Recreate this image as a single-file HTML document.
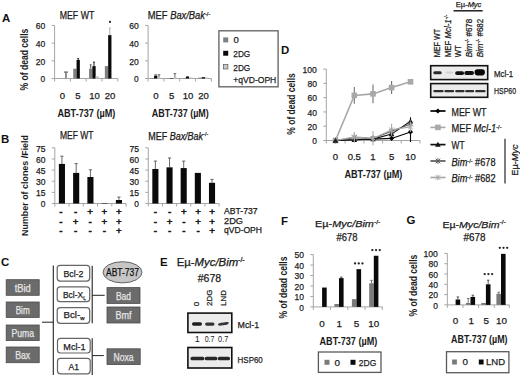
<!DOCTYPE html>
<html><head><meta charset="utf-8"><style>
html,body{margin:0;padding:0;background:#fff;}
body{width:520px;height:375px;overflow:hidden;}
svg{display:block;font-family:"Liberation Sans",sans-serif;}
text{stroke:#1a1a1a;stroke-width:0.25px;}
</style></head><body>
<svg width="520" height="375" viewBox="0 0 520 375">
<rect width="520" height="375" fill="#fff"/>
<text x="2" y="22.3" font-size="11.45" font-weight="bold" text-anchor="start" fill="#111" style="stroke:#111;stroke-width:0">A</text>
<text x="1" y="142.8" font-size="11.45" font-weight="bold" text-anchor="start" fill="#111" style="stroke:#111;stroke-width:0">B</text>
<text x="1" y="265.8" font-size="11.45" font-weight="bold" text-anchor="start" fill="#111" style="stroke:#111;stroke-width:0">C</text>
<text x="281" y="53.8" font-size="11.45" font-weight="bold" text-anchor="start" fill="#111" style="stroke:#111;stroke-width:0">D</text>
<text x="160" y="266.0" font-size="11.45" font-weight="bold" text-anchor="start" fill="#111" style="stroke:#111;stroke-width:0">E</text>
<text x="281" y="224.6" font-size="11.45" font-weight="bold" text-anchor="start" fill="#111" style="stroke:#111;stroke-width:0">F</text>
<text x="406.6" y="224.3" font-size="11.45" font-weight="bold" text-anchor="start" fill="#111" style="stroke:#111;stroke-width:0">G</text>
<line x1="54.6" y1="25.4" x2="54.6" y2="78.5" stroke="#a5a5a5" stroke-width="1"/>
<line x1="51.6" y1="25.4" x2="54.6" y2="25.4" stroke="#a5a5a5" stroke-width="1"/>
<text x="45.2" y="29.099999999999998" font-size="9.54" text-anchor="end" fill="#1a1a1a" textLength="9.5" lengthAdjust="spacingAndGlyphs">60</text>
<line x1="51.6" y1="43.099999999999994" x2="54.6" y2="43.099999999999994" stroke="#a5a5a5" stroke-width="1"/>
<text x="45.2" y="46.8" font-size="9.54" text-anchor="end" fill="#1a1a1a" textLength="9.5" lengthAdjust="spacingAndGlyphs">40</text>
<line x1="51.6" y1="60.8" x2="54.6" y2="60.8" stroke="#a5a5a5" stroke-width="1"/>
<text x="45.2" y="64.5" font-size="9.54" text-anchor="end" fill="#1a1a1a" textLength="9.5" lengthAdjust="spacingAndGlyphs">20</text>
<line x1="51.6" y1="78.5" x2="54.6" y2="78.5" stroke="#a5a5a5" stroke-width="1"/>
<text x="45.2" y="82.2" font-size="9.54" text-anchor="end" fill="#1a1a1a" textLength="4.65" lengthAdjust="spacingAndGlyphs">0</text>
<line x1="54.6" y1="78.5" x2="117.8" y2="78.5" stroke="#a5a5a5" stroke-width="1"/>
<line x1="54.6" y1="78.5" x2="54.6" y2="81.5" stroke="#a5a5a5" stroke-width="1"/>
<line x1="70.4" y1="78.5" x2="70.4" y2="81.5" stroke="#a5a5a5" stroke-width="1"/>
<line x1="86.2" y1="78.5" x2="86.2" y2="81.5" stroke="#a5a5a5" stroke-width="1"/>
<line x1="102.0" y1="78.5" x2="102.0" y2="81.5" stroke="#a5a5a5" stroke-width="1"/>
<line x1="117.8" y1="78.5" x2="117.8" y2="81.5" stroke="#a5a5a5" stroke-width="1"/>
<rect x="65.0" y="72.3" width="1.9" height="6.200000000000003" fill="#8c8c8c"/>
<line x1="63.9" y1="72.1" x2="68.0" y2="72.1" stroke="#6a6a6a" stroke-width="1.3"/>
<rect x="73.25" y="68.765" width="3.3" height="9.735" fill="#7f7f7f"/>
<rect x="76.55" y="59.915" width="3.3" height="18.585" fill="#0a0a0a"/>
<line x1="78.2" y1="58.5875" x2="78.2" y2="59.915" stroke="#222" stroke-width="1.0"/>
<line x1="77.3" y1="58.5875" x2="79.10000000000001" y2="58.5875" stroke="#222" stroke-width="1.0"/>
<rect x="89.05" y="68.765" width="3.3" height="9.735" fill="#7f7f7f"/>
<line x1="90.7" y1="64.7825" x2="90.7" y2="68.765" stroke="#555" stroke-width="1.0"/>
<line x1="89.8" y1="64.7825" x2="91.60000000000001" y2="64.7825" stroke="#555" stroke-width="1.0"/>
<rect x="92.35" y="66.11" width="3.3" height="12.39" fill="#0a0a0a"/>
<line x1="94.0" y1="62.1275" x2="94.0" y2="66.11" stroke="#222" stroke-width="1.0"/>
<line x1="93.1" y1="62.1275" x2="94.9" y2="62.1275" stroke="#222" stroke-width="1.0"/>
<rect x="95.64999999999999" y="76.2875" width="3.3" height="2.2125000000000057" fill="#c9c9c9"/>
<rect x="104.85" y="66.11" width="3.3" height="12.39" fill="#7f7f7f"/>
<rect x="108.14999999999999" y="35.135" width="3.3" height="43.365" fill="#0a0a0a"/>
<line x1="109.8" y1="28.054999999999993" x2="109.8" y2="35.135" stroke="#aaa" stroke-width="1.0"/>
<line x1="108.89999999999999" y1="28.054999999999993" x2="110.7" y2="28.054999999999993" stroke="#aaa" stroke-width="1.0"/>
<circle cx="110.00" cy="21.9" r="1.05" fill="#222"/>
<text x="62.5" y="98.8" font-size="9.54" text-anchor="middle" fill="#1a1a1a">0</text>
<text x="78" y="98.8" font-size="9.54" text-anchor="middle" fill="#1a1a1a">5</text>
<text x="94.5" y="98.8" font-size="9.54" text-anchor="middle" fill="#1a1a1a">10</text>
<text x="110" y="98.8" font-size="9.54" text-anchor="middle" fill="#1a1a1a">20</text>
<text x="86.4" y="116.7" font-size="10.28" font-weight="bold" text-anchor="middle" fill="#1a1a1a" textLength="58" lengthAdjust="spacingAndGlyphs" style="stroke-width:0">ABT-737 (µM)</text>
<text x="77" y="18.9" font-size="10.07" text-anchor="middle" fill="#1a1a1a" textLength="34.5" lengthAdjust="spacingAndGlyphs">MEF WT</text>
<text transform="translate(28.2,59.6) rotate(-90)" x="0" y="0" font-size="10.07" font-weight="bold" text-anchor="middle" fill="#1a1a1a" textLength="62" lengthAdjust="spacingAndGlyphs" style="stroke-width:0">% of dead cells</text>
<line x1="148.1" y1="25.4" x2="148.1" y2="78.5" stroke="#a5a5a5" stroke-width="1"/>
<line x1="145.1" y1="25.4" x2="148.1" y2="25.4" stroke="#a5a5a5" stroke-width="1"/>
<text x="138.7" y="29.099999999999998" font-size="9.54" text-anchor="end" fill="#1a1a1a" textLength="9.5" lengthAdjust="spacingAndGlyphs">60</text>
<line x1="145.1" y1="43.099999999999994" x2="148.1" y2="43.099999999999994" stroke="#a5a5a5" stroke-width="1"/>
<text x="138.7" y="46.8" font-size="9.54" text-anchor="end" fill="#1a1a1a" textLength="9.5" lengthAdjust="spacingAndGlyphs">40</text>
<line x1="145.1" y1="60.8" x2="148.1" y2="60.8" stroke="#a5a5a5" stroke-width="1"/>
<text x="138.7" y="64.5" font-size="9.54" text-anchor="end" fill="#1a1a1a" textLength="9.5" lengthAdjust="spacingAndGlyphs">20</text>
<line x1="145.1" y1="78.5" x2="148.1" y2="78.5" stroke="#a5a5a5" stroke-width="1"/>
<text x="138.7" y="82.2" font-size="9.54" text-anchor="end" fill="#1a1a1a" textLength="4.65" lengthAdjust="spacingAndGlyphs">0</text>
<line x1="148.1" y1="78.5" x2="211.4" y2="78.5" stroke="#a5a5a5" stroke-width="1"/>
<line x1="148.1" y1="78.5" x2="148.1" y2="81.5" stroke="#a5a5a5" stroke-width="1"/>
<line x1="163.9" y1="78.5" x2="163.9" y2="81.5" stroke="#a5a5a5" stroke-width="1"/>
<line x1="179.7" y1="78.5" x2="179.7" y2="81.5" stroke="#a5a5a5" stroke-width="1"/>
<line x1="195.6" y1="78.5" x2="195.6" y2="81.5" stroke="#a5a5a5" stroke-width="1"/>
<line x1="211.4" y1="78.5" x2="211.4" y2="81.5" stroke="#a5a5a5" stroke-width="1"/>
<rect x="150.75" y="77.969" width="3.3" height="0.5310000000000059" fill="#7f7f7f"/>
<rect x="154.05" y="75.668" width="3.3" height="2.8319999999999936" fill="#0a0a0a"/>
<line x1="155.70000000000002" y1="74.783" x2="155.70000000000002" y2="75.668" stroke="#444" stroke-width="0.8"/>
<line x1="154.4" y1="74.783" x2="157.00000000000003" y2="74.783" stroke="#444" stroke-width="0.8"/>
<rect x="157.35000000000002" y="77.438" width="3.3" height="1.0619999999999976" fill="#c9c9c9"/>
<line x1="159.00000000000003" y1="74.783" x2="159.00000000000003" y2="77.438" stroke="#444" stroke-width="0.8"/>
<line x1="157.70000000000002" y1="74.783" x2="160.30000000000004" y2="74.783" stroke="#444" stroke-width="0.8"/>
<rect x="166.65" y="78.2345" width="3.3" height="0.26550000000000296" fill="#7f7f7f"/>
<rect x="169.95000000000002" y="78.0575" width="3.3" height="0.44249999999999545" fill="#0a0a0a"/>
<rect x="173.25000000000003" y="77.1725" width="3.3" height="1.3275000000000006" fill="#c9c9c9"/>
<line x1="174.90000000000003" y1="73.6325" x2="174.90000000000003" y2="77.1725" stroke="#444" stroke-width="0.8"/>
<line x1="173.60000000000002" y1="73.6325" x2="176.20000000000005" y2="73.6325" stroke="#444" stroke-width="0.8"/>
<rect x="182.55" y="78.0575" width="3.3" height="0.44249999999999545" fill="#7f7f7f"/>
<rect x="185.85000000000002" y="76.907" width="3.3" height="1.5930000000000035" fill="#0a0a0a"/>
<line x1="187.50000000000003" y1="76.4645" x2="187.50000000000003" y2="76.907" stroke="#444" stroke-width="0.8"/>
<line x1="186.20000000000002" y1="76.4645" x2="188.80000000000004" y2="76.4645" stroke="#444" stroke-width="0.8"/>
<rect x="189.15000000000003" y="77.438" width="3.3" height="1.0619999999999976" fill="#c9c9c9"/>
<rect x="198.45000000000002" y="77.615" width="3.3" height="0.8850000000000051" fill="#7f7f7f"/>
<rect x="201.75000000000003" y="77.1725" width="3.3" height="1.3275000000000006" fill="#0a0a0a"/>
<rect x="205.05000000000004" y="77.438" width="3.3" height="1.0619999999999976" fill="#c9c9c9"/>
<text x="156.0" y="98.8" font-size="9.54" text-anchor="middle" fill="#1a1a1a">0</text>
<text x="171.6" y="98.8" font-size="9.54" text-anchor="middle" fill="#1a1a1a">5</text>
<text x="188.0" y="98.8" font-size="9.54" text-anchor="middle" fill="#1a1a1a">10</text>
<text x="203.5" y="98.8" font-size="9.54" text-anchor="middle" fill="#1a1a1a">20</text>
<text x="180.3" y="116.5" font-size="10.28" font-weight="bold" text-anchor="middle" fill="#1a1a1a" textLength="57" lengthAdjust="spacingAndGlyphs" style="stroke-width:0">ABT-737 (µM)</text>
<text x="147.8" y="19.3" font-size="10" fill="#1a1a1a" textLength="62.5" lengthAdjust="spacingAndGlyphs">MEF <tspan font-style="italic">Bax/Bak</tspan><tspan font-size="6" dy="-3.5">-/-</tspan></text>
<rect x="218.9" y="30.8" width="59.2" height="56.0" fill="white" stroke="#6a6a6a" stroke-width="1.4"/>
<rect x="223.2" y="37.4" width="5.0" height="5.0" fill="#7f7f7f"/>
<rect x="223.2" y="50.8" width="5.0" height="4.9" fill="#0a0a0a"/>
<rect x="223.5" y="64.6" width="4.4" height="4.4" fill="#c9c9c9" stroke="#555" stroke-width="0.7"/>
<text x="233.5" y="43.3" font-size="9.54" text-anchor="start" fill="#1a1a1a">0</text>
<text x="233.3" y="57.3" font-size="9.54" text-anchor="start" fill="#1a1a1a" textLength="17" lengthAdjust="spacingAndGlyphs">2DG</text>
<text x="233.3" y="71.3" font-size="9.54" text-anchor="start" fill="#1a1a1a" textLength="17" lengthAdjust="spacingAndGlyphs">2DG</text>
<text x="233.3" y="82.6" font-size="9.54" text-anchor="start" fill="#1a1a1a" textLength="43" lengthAdjust="spacingAndGlyphs">+qVD-OPH</text>
<line x1="54.8" y1="147.8" x2="54.8" y2="203.5" stroke="#a5a5a5" stroke-width="1"/>
<line x1="51.8" y1="147.8" x2="54.8" y2="147.8" stroke="#a5a5a5" stroke-width="1"/>
<text x="45.4" y="151.5" font-size="9.54" text-anchor="end" fill="#1a1a1a" textLength="9.5" lengthAdjust="spacingAndGlyphs">75</text>
<line x1="51.8" y1="158.94" x2="54.8" y2="158.94" stroke="#a5a5a5" stroke-width="1"/>
<text x="45.4" y="162.64" font-size="9.54" text-anchor="end" fill="#1a1a1a" textLength="9.5" lengthAdjust="spacingAndGlyphs">60</text>
<line x1="51.8" y1="170.08" x2="54.8" y2="170.08" stroke="#a5a5a5" stroke-width="1"/>
<text x="45.4" y="173.78" font-size="9.54" text-anchor="end" fill="#1a1a1a" textLength="9.5" lengthAdjust="spacingAndGlyphs">45</text>
<line x1="51.8" y1="181.22" x2="54.8" y2="181.22" stroke="#a5a5a5" stroke-width="1"/>
<text x="45.4" y="184.92" font-size="9.54" text-anchor="end" fill="#1a1a1a" textLength="9.5" lengthAdjust="spacingAndGlyphs">30</text>
<line x1="51.8" y1="192.36" x2="54.8" y2="192.36" stroke="#a5a5a5" stroke-width="1"/>
<text x="45.4" y="196.06" font-size="9.54" text-anchor="end" fill="#1a1a1a" textLength="9.5" lengthAdjust="spacingAndGlyphs">15</text>
<line x1="51.8" y1="203.5" x2="54.8" y2="203.5" stroke="#a5a5a5" stroke-width="1"/>
<text x="45.4" y="207.2" font-size="9.54" text-anchor="end" fill="#1a1a1a" textLength="4.65" lengthAdjust="spacingAndGlyphs">0</text>
<line x1="54.8" y1="203.5" x2="126.05" y2="203.5" stroke="#a5a5a5" stroke-width="1"/>
<line x1="54.8" y1="203.5" x2="54.8" y2="206.5" stroke="#a5a5a5" stroke-width="1"/>
<line x1="69.05" y1="203.5" x2="69.05" y2="206.5" stroke="#a5a5a5" stroke-width="1"/>
<line x1="83.3" y1="203.5" x2="83.3" y2="206.5" stroke="#a5a5a5" stroke-width="1"/>
<line x1="97.55" y1="203.5" x2="97.55" y2="206.5" stroke="#a5a5a5" stroke-width="1"/>
<line x1="111.8" y1="203.5" x2="111.8" y2="206.5" stroke="#a5a5a5" stroke-width="1"/>
<line x1="126.05" y1="203.5" x2="126.05" y2="206.5" stroke="#a5a5a5" stroke-width="1"/>
<rect x="58.875" y="163.9158666666667" width="6.1" height="39.58413333333331" fill="#0a0a0a"/>
<line x1="61.925" y1="156.19213333333335" x2="61.925" y2="163.9158666666667" stroke="#444" stroke-width="0.8"/>
<line x1="60.324999999999996" y1="156.19213333333335" x2="63.525" y2="156.19213333333335" stroke="#444" stroke-width="0.8"/>
<rect x="73.125" y="172.90213333333332" width="6.1" height="30.597866666666675" fill="#0a0a0a"/>
<line x1="76.175" y1="163.61880000000002" x2="76.175" y2="172.90213333333332" stroke="#444" stroke-width="0.8"/>
<line x1="74.575" y1="163.61880000000002" x2="77.77499999999999" y2="163.61880000000002" stroke="#444" stroke-width="0.8"/>
<rect x="87.375" y="176.98680000000002" width="6.1" height="26.513199999999983" fill="#0a0a0a"/>
<line x1="90.425" y1="169.78293333333335" x2="90.425" y2="176.98680000000002" stroke="#444" stroke-width="0.8"/>
<line x1="88.825" y1="169.78293333333335" x2="92.02499999999999" y2="169.78293333333335" stroke="#444" stroke-width="0.8"/>
<rect x="101.625" y="203.0544" width="6.1" height="0.4456000000000131" fill="#0a0a0a"/>
<rect x="115.875" y="200.00946666666667" width="6.1" height="3.4905333333333317" fill="#0a0a0a"/>
<line x1="118.925" y1="197.0388" x2="118.925" y2="200.00946666666667" stroke="#444" stroke-width="0.8"/>
<line x1="117.325" y1="197.0388" x2="120.52499999999999" y2="197.0388" stroke="#444" stroke-width="0.8"/>
<line x1="148.3" y1="147.8" x2="148.3" y2="203.5" stroke="#a5a5a5" stroke-width="1"/>
<line x1="145.3" y1="147.8" x2="148.3" y2="147.8" stroke="#a5a5a5" stroke-width="1"/>
<text x="138.9" y="151.5" font-size="9.54" text-anchor="end" fill="#1a1a1a" textLength="9.5" lengthAdjust="spacingAndGlyphs">75</text>
<line x1="145.3" y1="158.94" x2="148.3" y2="158.94" stroke="#a5a5a5" stroke-width="1"/>
<text x="138.9" y="162.64" font-size="9.54" text-anchor="end" fill="#1a1a1a" textLength="9.5" lengthAdjust="spacingAndGlyphs">60</text>
<line x1="145.3" y1="170.08" x2="148.3" y2="170.08" stroke="#a5a5a5" stroke-width="1"/>
<text x="138.9" y="173.78" font-size="9.54" text-anchor="end" fill="#1a1a1a" textLength="9.5" lengthAdjust="spacingAndGlyphs">45</text>
<line x1="145.3" y1="181.22" x2="148.3" y2="181.22" stroke="#a5a5a5" stroke-width="1"/>
<text x="138.9" y="184.92" font-size="9.54" text-anchor="end" fill="#1a1a1a" textLength="9.5" lengthAdjust="spacingAndGlyphs">30</text>
<line x1="145.3" y1="192.36" x2="148.3" y2="192.36" stroke="#a5a5a5" stroke-width="1"/>
<text x="138.9" y="196.06" font-size="9.54" text-anchor="end" fill="#1a1a1a" textLength="9.5" lengthAdjust="spacingAndGlyphs">15</text>
<line x1="145.3" y1="203.5" x2="148.3" y2="203.5" stroke="#a5a5a5" stroke-width="1"/>
<text x="138.9" y="207.2" font-size="9.54" text-anchor="end" fill="#1a1a1a" textLength="4.65" lengthAdjust="spacingAndGlyphs">0</text>
<line x1="148.3" y1="203.5" x2="219.10000000000002" y2="203.5" stroke="#a5a5a5" stroke-width="1"/>
<line x1="148.3" y1="203.5" x2="148.3" y2="206.5" stroke="#a5a5a5" stroke-width="1"/>
<line x1="162.46" y1="203.5" x2="162.46" y2="206.5" stroke="#a5a5a5" stroke-width="1"/>
<line x1="176.62" y1="203.5" x2="176.62" y2="206.5" stroke="#a5a5a5" stroke-width="1"/>
<line x1="190.78000000000003" y1="203.5" x2="190.78000000000003" y2="206.5" stroke="#a5a5a5" stroke-width="1"/>
<line x1="204.94" y1="203.5" x2="204.94" y2="206.5" stroke="#a5a5a5" stroke-width="1"/>
<line x1="219.10000000000002" y1="203.5" x2="219.10000000000002" y2="206.5" stroke="#a5a5a5" stroke-width="1"/>
<rect x="152.32999999999998" y="168.966" width="6.1" height="34.53399999999999" fill="#0a0a0a"/>
<line x1="155.38" y1="161.09373333333335" x2="155.38" y2="168.966" stroke="#444" stroke-width="0.8"/>
<line x1="153.78" y1="161.09373333333335" x2="156.98" y2="161.09373333333335" stroke="#444" stroke-width="0.8"/>
<rect x="166.49" y="167.33213333333333" width="6.1" height="36.16786666666667" fill="#0a0a0a"/>
<line x1="169.54000000000002" y1="157.97453333333334" x2="169.54000000000002" y2="167.33213333333333" stroke="#444" stroke-width="0.8"/>
<line x1="167.94000000000003" y1="157.97453333333334" x2="171.14000000000001" y2="157.97453333333334" stroke="#444" stroke-width="0.8"/>
<rect x="180.65" y="168.0748" width="6.1" height="35.42519999999999" fill="#0a0a0a"/>
<line x1="183.70000000000002" y1="161.09373333333335" x2="183.70000000000002" y2="168.0748" stroke="#444" stroke-width="0.8"/>
<line x1="182.10000000000002" y1="161.09373333333335" x2="185.3" y2="161.09373333333335" stroke="#444" stroke-width="0.8"/>
<rect x="194.81" y="172.90213333333332" width="6.1" height="30.597866666666675" fill="#0a0a0a"/>
<rect x="208.97" y="182.77960000000002" width="6.1" height="20.720399999999984" fill="#0a0a0a"/>
<line x1="212.02" y1="179.4376" x2="212.02" y2="182.77960000000002" stroke="#444" stroke-width="0.8"/>
<line x1="210.42000000000002" y1="179.4376" x2="213.62" y2="179.4376" stroke="#444" stroke-width="0.8"/>
<text x="76.7" y="139.3" font-size="10.18" text-anchor="middle" fill="#1a1a1a" textLength="33.5" lengthAdjust="spacingAndGlyphs">MEF WT</text>
<text x="148.2" y="139.5" font-size="10" fill="#1a1a1a" textLength="60" lengthAdjust="spacingAndGlyphs">MEF <tspan font-style="italic">Bax/Bak</tspan><tspan font-size="6" dy="-3.5">-/-</tspan></text>
<text transform="translate(28,185.5) rotate(-90)" x="0" y="0" font-size="9.86" font-weight="bold" text-anchor="middle" fill="#1a1a1a" textLength="101" lengthAdjust="spacingAndGlyphs" style="stroke-width:0">Number of clones /Field</text>
<text x="60.8" y="215.10000000000002" font-size="9.75" text-anchor="middle" fill="#1a1a1a" style="stroke-width:0.55px">-</text>
<text x="75.7" y="215.10000000000002" font-size="9.75" text-anchor="middle" fill="#1a1a1a" style="stroke-width:0.55px">-</text>
<text x="90.0" y="215.10000000000002" font-size="9.75" text-anchor="middle" fill="#1a1a1a" style="stroke-width:0.55px">+</text>
<text x="104.4" y="215.10000000000002" font-size="9.75" text-anchor="middle" fill="#1a1a1a" style="stroke-width:0.55px">+</text>
<text x="118.8" y="215.10000000000002" font-size="9.75" text-anchor="middle" fill="#1a1a1a" style="stroke-width:0.55px">+</text>
<text x="155.4" y="215.10000000000002" font-size="9.75" text-anchor="middle" fill="#1a1a1a" style="stroke-width:0.55px">-</text>
<text x="169.7" y="215.10000000000002" font-size="9.75" text-anchor="middle" fill="#1a1a1a" style="stroke-width:0.55px">-</text>
<text x="183.9" y="215.10000000000002" font-size="9.75" text-anchor="middle" fill="#1a1a1a" style="stroke-width:0.55px">+</text>
<text x="198.0" y="215.10000000000002" font-size="9.75" text-anchor="middle" fill="#1a1a1a" style="stroke-width:0.55px">+</text>
<text x="212.0" y="215.10000000000002" font-size="9.75" text-anchor="middle" fill="#1a1a1a" style="stroke-width:0.55px">+</text>
<text x="60.8" y="224.5" font-size="9.75" text-anchor="middle" fill="#1a1a1a" style="stroke-width:0.55px">-</text>
<text x="75.7" y="224.5" font-size="9.75" text-anchor="middle" fill="#1a1a1a" style="stroke-width:0.55px">+</text>
<text x="90.0" y="224.5" font-size="9.75" text-anchor="middle" fill="#1a1a1a" style="stroke-width:0.55px">-</text>
<text x="104.4" y="224.5" font-size="9.75" text-anchor="middle" fill="#1a1a1a" style="stroke-width:0.55px">+</text>
<text x="118.8" y="224.5" font-size="9.75" text-anchor="middle" fill="#1a1a1a" style="stroke-width:0.55px">+</text>
<text x="155.4" y="224.5" font-size="9.75" text-anchor="middle" fill="#1a1a1a" style="stroke-width:0.55px">-</text>
<text x="169.7" y="224.5" font-size="9.75" text-anchor="middle" fill="#1a1a1a" style="stroke-width:0.55px">+</text>
<text x="183.9" y="224.5" font-size="9.75" text-anchor="middle" fill="#1a1a1a" style="stroke-width:0.55px">-</text>
<text x="198.0" y="224.5" font-size="9.75" text-anchor="middle" fill="#1a1a1a" style="stroke-width:0.55px">+</text>
<text x="212.0" y="224.5" font-size="9.75" text-anchor="middle" fill="#1a1a1a" style="stroke-width:0.55px">+</text>
<text x="60.8" y="234.10000000000002" font-size="9.75" text-anchor="middle" fill="#1a1a1a" style="stroke-width:0.55px">-</text>
<text x="75.7" y="234.10000000000002" font-size="9.75" text-anchor="middle" fill="#1a1a1a" style="stroke-width:0.55px">-</text>
<text x="90.0" y="234.10000000000002" font-size="9.75" text-anchor="middle" fill="#1a1a1a" style="stroke-width:0.55px">-</text>
<text x="104.4" y="234.10000000000002" font-size="9.75" text-anchor="middle" fill="#1a1a1a" style="stroke-width:0.55px">-</text>
<text x="118.8" y="234.10000000000002" font-size="9.75" text-anchor="middle" fill="#1a1a1a" style="stroke-width:0.55px">+</text>
<text x="155.4" y="234.10000000000002" font-size="9.75" text-anchor="middle" fill="#1a1a1a" style="stroke-width:0.55px">-</text>
<text x="169.7" y="234.10000000000002" font-size="9.75" text-anchor="middle" fill="#1a1a1a" style="stroke-width:0.55px">-</text>
<text x="183.9" y="234.10000000000002" font-size="9.75" text-anchor="middle" fill="#1a1a1a" style="stroke-width:0.55px">-</text>
<text x="198.0" y="234.10000000000002" font-size="9.75" text-anchor="middle" fill="#1a1a1a" style="stroke-width:0.55px">-</text>
<text x="212.0" y="234.10000000000002" font-size="9.75" text-anchor="middle" fill="#1a1a1a" style="stroke-width:0.55px">+</text>
<text x="224" y="213.5" font-size="8.8" text-anchor="start" fill="#1a1a1a" textLength="33.5" lengthAdjust="spacingAndGlyphs">ABT-737</text>
<text x="224" y="223.5" font-size="8.8" text-anchor="start" fill="#1a1a1a" textLength="19" lengthAdjust="spacingAndGlyphs">2DG</text>
<text x="224" y="233.0" font-size="8.8" text-anchor="start" fill="#1a1a1a" textLength="38" lengthAdjust="spacingAndGlyphs">qVD-OPH</text>
<rect x="6.2" y="279.7" width="33" height="15.6" fill="#6b6b6b" stroke="#4a4a4a" stroke-width="0.8"/>
<text x="22.7" y="291.5" font-size="10.07" text-anchor="middle" fill="#e6e6e6" textLength="16" lengthAdjust="spacingAndGlyphs" style="stroke:#e6e6e6">tBid</text>
<rect x="6.2" y="302.0" width="33" height="15.4" fill="#6b6b6b" stroke="#4a4a4a" stroke-width="0.8"/>
<text x="22.7" y="313.7" font-size="10.07" text-anchor="middle" fill="#e6e6e6" textLength="14" lengthAdjust="spacingAndGlyphs" style="stroke:#e6e6e6">Bim</text>
<rect x="6.2" y="325.0" width="33" height="15.6" fill="#6b6b6b" stroke="#4a4a4a" stroke-width="0.8"/>
<text x="22.7" y="336.8" font-size="10.07" text-anchor="middle" fill="#e6e6e6" textLength="22.5" lengthAdjust="spacingAndGlyphs" style="stroke:#e6e6e6">Puma</text>
<rect x="6.2" y="347.0" width="33" height="15.7" fill="#6b6b6b" stroke="#4a4a4a" stroke-width="0.8"/>
<text x="22.7" y="358.85" font-size="10.07" text-anchor="middle" fill="#e6e6e6" textLength="15" lengthAdjust="spacingAndGlyphs" style="stroke:#e6e6e6">Bax</text>
<line x1="42" y1="322.2" x2="53.3" y2="322.2" stroke="#222" stroke-width="1"/>
<line x1="53.3" y1="265.5" x2="53.3" y2="375" stroke="#222" stroke-width="1.1"/>
<rect x="57.2" y="265.3" width="32.5" height="15.8" fill="white" stroke="#666" stroke-width="1.2" rx="3"/>
<text x="73.5" y="276.59999999999997" font-size="9.8" text-anchor="middle" fill="#1a1a1a" textLength="20" lengthAdjust="spacingAndGlyphs">Bcl-2</text>
<rect x="57.2" y="286.9" width="32.5" height="14.8" fill="white" stroke="#666" stroke-width="1.2" rx="3"/>
<text x="74.5" y="297.7" font-size="9.8" text-anchor="middle" fill="#1a1a1a" textLength="23" lengthAdjust="spacingAndGlyphs">Bcl-X<tspan font-size="6" dy="2.5">L</tspan></text>
<rect x="57.2" y="307.7" width="32.5" height="15.6" fill="white" stroke="#666" stroke-width="1.2" rx="3"/>
<text x="74.0" y="317.9" font-size="9.8" text-anchor="middle" fill="#1a1a1a" textLength="21" lengthAdjust="spacingAndGlyphs">Bcl-<tspan font-size="6" dy="2.5">w</tspan></text>
<rect x="57.5" y="338.3" width="32.7" height="14.7" fill="white" stroke="#666" stroke-width="1.2" rx="3"/>
<text x="74.5" y="349.59999999999997" font-size="9.8" text-anchor="middle" fill="#1a1a1a" textLength="22.4" lengthAdjust="spacingAndGlyphs">Mcl-1</text>
<rect x="57.5" y="358.3" width="32.7" height="15.5" fill="white" stroke="#666" stroke-width="1.2" rx="3"/>
<text x="73.8" y="369.9" font-size="9.8" text-anchor="middle" fill="#1a1a1a" textLength="10.5" lengthAdjust="spacingAndGlyphs">A1</text>
<line x1="92.2" y1="265.8" x2="92.2" y2="323.3" stroke="#222" stroke-width="1.1"/>
<line x1="92.2" y1="338.3" x2="92.2" y2="375" stroke="#222" stroke-width="1.1"/>
<line x1="92.2" y1="295.3" x2="104.7" y2="295.3" stroke="#222" stroke-width="1"/>
<line x1="92.2" y1="355.6" x2="103.8" y2="355.6" stroke="#222" stroke-width="1"/>
<ellipse cx="122.5" cy="272.3" rx="19.5" ry="10.6" fill="#c6c6c6" stroke="#555" stroke-width="0.9"/>
<text x="122.5" y="275.7" font-size="10.07" text-anchor="middle" fill="#111" textLength="33" lengthAdjust="spacingAndGlyphs" style="stroke:#111">ABT-737</text>
<rect x="107" y="287.6" width="33" height="15.8" fill="#6b6b6b" stroke="#4a4a4a" stroke-width="0.8"/>
<text x="123.5" y="299.5" font-size="10.07" text-anchor="middle" fill="#e6e6e6" textLength="15" lengthAdjust="spacingAndGlyphs" style="stroke:#e6e6e6">Bad</text>
<rect x="107" y="307.0" width="33" height="16.0" fill="#6b6b6b" stroke="#4a4a4a" stroke-width="0.8"/>
<text x="123.5" y="319.0" font-size="10.07" text-anchor="middle" fill="#e6e6e6" textLength="16" lengthAdjust="spacingAndGlyphs" style="stroke:#e6e6e6">Bmf</text>
<rect x="107" y="348.8" width="33.2" height="15.8" fill="#6b6b6b" stroke="#4a4a4a" stroke-width="0.8"/>
<text x="123.6" y="360.7" font-size="10.07" text-anchor="middle" fill="#e6e6e6" textLength="20" lengthAdjust="spacingAndGlyphs" style="stroke:#e6e6e6">Noxa</text>
<text x="176.7" y="266.3" font-size="10.6" fill="#1a1a1a" textLength="68" lengthAdjust="spacingAndGlyphs">Eµ-<tspan font-style="italic">Myc/Bim</tspan><tspan font-size="6.5" dy="-4">-/-</tspan></text>
<text x="209.4" y="282.4" font-size="10.6" text-anchor="middle" fill="#1a1a1a" textLength="23.3" lengthAdjust="spacingAndGlyphs">#678</text>
<text transform="translate(199.3,306.2) rotate(-90)" x="0" y="0" font-size="8.06" text-anchor="start" fill="#1a1a1a">0</text>
<text transform="translate(211.7,306.0) rotate(-90)" x="0" y="0" font-size="8.06" text-anchor="start" fill="#1a1a1a" textLength="16.4" lengthAdjust="spacingAndGlyphs">2DG</text>
<text transform="translate(226.3,306.0) rotate(-90)" x="0" y="0" font-size="8.06" text-anchor="start" fill="#1a1a1a" textLength="15.9" lengthAdjust="spacingAndGlyphs">LND</text>
<rect x="187.9" y="313.1" width="43.9" height="19.4" fill="#ebebeb" stroke="#111" stroke-width="1.6"/>
<rect x="187.9" y="347.5" width="43.9" height="20.50000000000002" fill="#ebebeb" stroke="#111" stroke-width="1.6"/>
<rect x="192.0" y="322.2" width="10.00" height="3.60" rx="1.7" fill="#1e1e1e"/>
<rect x="205.1" y="322.4" width="9.40" height="3.30" rx="1.6" fill="#333"/>
<path d="M218.0,324.6 C218.0,322.9 222,322.8 224,322.5 C226.5,322.1 228.7,321.7 228.7,323.0 C228.7,324.8 225,325.0 223,325.3 C220,325.7 218.0,326.0 218.0,324.6Z" fill="#383838"/>
<rect x="190.5" y="356.8" width="13.90" height="3.50" rx="1.6" fill="#262626"/>
<rect x="204.8" y="356.8" width="12.60" height="3.50" rx="1.6" fill="#262626"/>
<rect x="217.8" y="356.8" width="12.20" height="3.50" rx="1.6" fill="#262626"/>
<text x="237.5" y="328.0" font-size="9.75" text-anchor="start" fill="#1a1a1a" textLength="21.7" lengthAdjust="spacingAndGlyphs">Mcl-1</text>
<text x="197.3" y="342.4" font-size="9.12" text-anchor="middle" fill="#1a1a1a" style="stroke-width:0">1</text>
<text x="209.6" y="342.4" font-size="9.12" text-anchor="middle" fill="#1a1a1a" textLength="9.8" lengthAdjust="spacingAndGlyphs" style="stroke-width:0">0.7</text>
<text x="223.2" y="342.4" font-size="9.12" text-anchor="middle" fill="#1a1a1a" textLength="10.2" lengthAdjust="spacingAndGlyphs" style="stroke-width:0">0.7</text>
<text x="237.6" y="362.6" font-size="9.75" text-anchor="start" fill="#1a1a1a" textLength="25.2" lengthAdjust="spacingAndGlyphs">HSP60</text>
<line x1="326.3" y1="69.1" x2="326.3" y2="140.5" stroke="#a5a5a5" stroke-width="1"/>
<line x1="323.3" y1="69.1" x2="326.3" y2="69.1" stroke="#a5a5a5" stroke-width="1"/>
<text x="316.90000000000003" y="72.8" font-size="9.54" text-anchor="end" fill="#1a1a1a" textLength="14.35" lengthAdjust="spacingAndGlyphs">100</text>
<line x1="323.3" y1="83.38" x2="326.3" y2="83.38" stroke="#a5a5a5" stroke-width="1"/>
<text x="316.90000000000003" y="87.08" font-size="9.54" text-anchor="end" fill="#1a1a1a" textLength="9.5" lengthAdjust="spacingAndGlyphs">80</text>
<line x1="323.3" y1="97.66" x2="326.3" y2="97.66" stroke="#a5a5a5" stroke-width="1"/>
<text x="316.90000000000003" y="101.36" font-size="9.54" text-anchor="end" fill="#1a1a1a" textLength="9.5" lengthAdjust="spacingAndGlyphs">60</text>
<line x1="323.3" y1="111.94" x2="326.3" y2="111.94" stroke="#a5a5a5" stroke-width="1"/>
<text x="316.90000000000003" y="115.64" font-size="9.54" text-anchor="end" fill="#1a1a1a" textLength="9.5" lengthAdjust="spacingAndGlyphs">40</text>
<line x1="323.3" y1="126.22" x2="326.3" y2="126.22" stroke="#a5a5a5" stroke-width="1"/>
<text x="316.90000000000003" y="129.92" font-size="9.54" text-anchor="end" fill="#1a1a1a" textLength="9.5" lengthAdjust="spacingAndGlyphs">20</text>
<line x1="323.3" y1="140.5" x2="326.3" y2="140.5" stroke="#a5a5a5" stroke-width="1"/>
<text x="316.90000000000003" y="144.2" font-size="9.54" text-anchor="end" fill="#1a1a1a" textLength="4.65" lengthAdjust="spacingAndGlyphs">0</text>
<line x1="326.3" y1="140.5" x2="420.0" y2="140.5" stroke="#a5a5a5" stroke-width="1"/>
<line x1="326.3" y1="140.5" x2="326.3" y2="143.5" stroke="#a5a5a5" stroke-width="1"/>
<line x1="345.1" y1="140.5" x2="345.1" y2="143.5" stroke="#a5a5a5" stroke-width="1"/>
<line x1="363.9" y1="140.5" x2="363.9" y2="143.5" stroke="#a5a5a5" stroke-width="1"/>
<line x1="382.6" y1="140.5" x2="382.6" y2="143.5" stroke="#a5a5a5" stroke-width="1"/>
<line x1="401.2" y1="140.5" x2="401.2" y2="143.5" stroke="#a5a5a5" stroke-width="1"/>
<line x1="420.0" y1="140.5" x2="420.0" y2="143.5" stroke="#a5a5a5" stroke-width="1"/>
<text x="335.5" y="159.8" font-size="9.54" text-anchor="middle" fill="#1a1a1a">0</text>
<text x="354.3" y="159.8" font-size="9.54" text-anchor="middle" fill="#1a1a1a">0.5</text>
<text x="373.0" y="159.8" font-size="9.54" text-anchor="middle" fill="#1a1a1a">1</text>
<text x="391.6" y="159.8" font-size="9.54" text-anchor="middle" fill="#1a1a1a">5</text>
<text x="410.5" y="159.8" font-size="9.54" text-anchor="middle" fill="#1a1a1a">10</text>
<text x="373.4" y="178.4" font-size="10.28" font-weight="bold" text-anchor="middle" fill="#1a1a1a" textLength="58" lengthAdjust="spacingAndGlyphs" style="stroke-width:0">ABT-737 (µM)</text>
<text transform="translate(295.3,104.0) rotate(-90)" x="0" y="0" font-size="10.07" font-weight="bold" text-anchor="middle" fill="#1a1a1a" textLength="61.5" lengthAdjust="spacingAndGlyphs" style="stroke-width:0">% of dead cells</text>
<line x1="410.5" y1="121.93199999999999" x2="410.5" y2="141.932" stroke="#000" stroke-width="1.1"/>
<polyline points="335.5,140.5 354.3,139.8 373.0,139.1 391.6,138.4 410.5,131.9" fill="none" stroke="#000" stroke-width="1.1"/>
<polygon points="335.5,137.9 338.1,140.5 335.5,143.1 332.9,140.5" fill="#000"/>
<polygon points="354.3,137.186 356.90000000000003,139.786 354.3,142.386 351.7,139.786" fill="#000"/>
<polygon points="373.0,136.472 375.6,139.072 373.0,141.672 370.4,139.072" fill="#000"/>
<polygon points="391.6,135.758 394.20000000000005,138.358 391.6,140.958 389.0,138.358" fill="#000"/>
<polygon points="410.5,129.332 413.1,131.932 410.5,134.53199999999998 407.9,131.932" fill="#000"/>
<line x1="354.3" y1="87.0752" x2="354.3" y2="103.67519999999999" stroke="#707070" stroke-width="1.1"/>
<line x1="373.0" y1="84.47579999999999" x2="373.0" y2="103.2758" stroke="#707070" stroke-width="1.1"/>
<line x1="391.6" y1="81.0926" x2="391.6" y2="94.0926" stroke="#707070" stroke-width="1.1"/>
<line x1="410.5" y1="79.80919999999999" x2="410.5" y2="83.80919999999999" stroke="#707070" stroke-width="1.1"/>
<polyline points="335.5,140.5 354.3,95.4 373.0,93.9 391.6,87.6 410.5,81.8" fill="none" stroke="#a8a8a8" stroke-width="1.6"/>
<rect x="332.7" y="137.7" width="5.6" height="5.6" fill="#a8a8a8"/>
<rect x="351.5" y="92.5752" width="5.6" height="5.6" fill="#a8a8a8"/>
<rect x="370.2" y="91.0758" width="5.6" height="5.6" fill="#a8a8a8"/>
<rect x="388.8" y="84.79260000000001" width="5.6" height="5.6" fill="#a8a8a8"/>
<rect x="407.7" y="79.00919999999999" width="5.6" height="5.6" fill="#a8a8a8"/>
<line x1="410.5" y1="117.222" x2="410.5" y2="125.222" stroke="#111" stroke-width="1.1"/>
<polyline points="335.5,140.5 354.3,139.8 373.0,139.1 391.6,134.1 410.5,121.2" fill="none" stroke="#111" stroke-width="1.1"/>
<polygon points="335.5,137.7 338.3,142.74 332.7,142.74" fill="#111"/>
<polygon points="354.3,136.986 357.1,142.026 351.5,142.026" fill="#111"/>
<polygon points="373.0,136.272 375.8,141.312 370.2,141.312" fill="#111"/>
<polygon points="391.6,131.274 394.40000000000003,136.31400000000002 388.8,136.31400000000002" fill="#111"/>
<polygon points="410.5,118.422 413.3,123.46199999999999 407.7,123.46199999999999" fill="#111"/>
<line x1="410.5" y1="120.078" x2="410.5" y2="128.078" stroke="#5a5a5a" stroke-width="1.1"/>
<polyline points="335.5,140.5 354.3,137.6 373.0,138.4 391.6,131.2 410.5,124.1" fill="none" stroke="#5a5a5a" stroke-width="1.1"/>
<path d="M333.2,138.2L337.8,142.8M333.2,142.8L337.8,138.2M335.5,137.7L335.5,143.3" stroke="#5a5a5a" stroke-width="1"/>
<path d="M352.0,135.344L356.6,139.94400000000002M352.0,139.94400000000002L356.6,135.344M354.3,134.844L354.3,140.44400000000002" stroke="#5a5a5a" stroke-width="1"/>
<path d="M370.7,136.058L375.3,140.65800000000002M370.7,140.65800000000002L375.3,136.058M373.0,135.558L373.0,141.15800000000002" stroke="#5a5a5a" stroke-width="1"/>
<path d="M389.3,128.91799999999998L393.90000000000003,133.518M389.3,133.518L393.90000000000003,128.91799999999998M391.6,128.41799999999998L391.6,134.018" stroke="#5a5a5a" stroke-width="1"/>
<path d="M408.2,121.778L412.8,126.378M408.2,126.378L412.8,121.778M410.5,121.278L410.5,126.878" stroke="#5a5a5a" stroke-width="1"/>
<line x1="354.3" y1="131.93" x2="354.3" y2="141.93" stroke="#a9a9a9" stroke-width="1.1"/>
<line x1="373.0" y1="131.358" x2="373.0" y2="145.358" stroke="#a9a9a9" stroke-width="1.1"/>
<line x1="391.6" y1="123.78999999999999" x2="391.6" y2="135.79" stroke="#a9a9a9" stroke-width="1.1"/>
<line x1="410.5" y1="121.934" x2="410.5" y2="131.934" stroke="#a9a9a9" stroke-width="1.1"/>
<polyline points="335.5,140.5 354.3,136.9 373.0,138.4 391.6,129.8 410.5,126.9" fill="none" stroke="#a9a9a9" stroke-width="1.1"/>
<path d="M333.2,138.2L337.8,142.8M333.2,142.8L337.8,138.2M335.5,137.7L335.5,143.3" stroke="#a9a9a9" stroke-width="1"/>
<path d="M352.0,134.63L356.6,139.23000000000002M352.0,139.23000000000002L356.6,134.63M354.3,134.13L354.3,139.73000000000002" stroke="#a9a9a9" stroke-width="1"/>
<path d="M370.7,136.058L375.3,140.65800000000002M370.7,140.65800000000002L375.3,136.058M373.0,135.558L373.0,141.15800000000002" stroke="#a9a9a9" stroke-width="1"/>
<path d="M389.3,127.49L393.90000000000003,132.09M389.3,132.09L393.90000000000003,127.49M391.6,126.99L391.6,132.59" stroke="#a9a9a9" stroke-width="1"/>
<path d="M408.2,124.634L412.8,129.234M408.2,129.234L412.8,124.634M410.5,124.134L410.5,129.734" stroke="#a9a9a9" stroke-width="1"/>
<polygon points="335.5,137.7 338.3,142.74 332.7,142.74" fill="#222"/>
<text x="468.6" y="6.6" font-size="8.06" text-anchor="middle" fill="#1a1a1a" textLength="25.5" lengthAdjust="spacingAndGlyphs">Eµ-<tspan font-style="italic">Myc</tspan></text>
<line x1="453.5" y1="10.8" x2="482.7" y2="10.8" stroke="#111" stroke-width="1.4"/>
<text transform="translate(440.3,57.3) rotate(-90)" font-size="8.8" fill="#1a1a1a" textLength="28.6" lengthAdjust="spacingAndGlyphs">MEF WT</text>
<text transform="translate(451.4,57.3) rotate(-90)" font-size="8.8" fill="#1a1a1a" textLength="42.6" lengthAdjust="spacingAndGlyphs">MEF <tspan font-style="italic">Mcl-1</tspan><tspan font-size="5.5" dy="-3">-/-</tspan></text>
<text transform="translate(461.0,57.3) rotate(-90)" font-size="8.8" fill="#1a1a1a" textLength="12" lengthAdjust="spacingAndGlyphs">WT</text>
<text transform="translate(472.2,57.3) rotate(-90)" font-size="8.8" fill="#1a1a1a" textLength="38.6" lengthAdjust="spacingAndGlyphs"><tspan font-style="italic">Bim</tspan><tspan font-size="5.5" dy="-3">-/-</tspan><tspan dy="3"> #678</tspan></text>
<text transform="translate(482.9,57.3) rotate(-90)" font-size="8.8" fill="#1a1a1a" textLength="38.6" lengthAdjust="spacingAndGlyphs"><tspan font-style="italic">Bim</tspan><tspan font-size="5.5" dy="-3">-/-</tspan><tspan dy="3"> #682</tspan></text>
<rect x="430.7" y="65.7" width="57.00000000000002" height="13.9" fill="#ebebeb" stroke="#111" stroke-width="1.6"/>
<rect x="430.7" y="83.6" width="57.00000000000002" height="13.699999999999998" fill="#ebebeb" stroke="#111" stroke-width="1.6"/>
<rect x="433.3" y="71.3" width="8.40" height="3.00" rx="1.5" fill="#2a2a2a"/>
<rect x="445.6" y="71.6" width="7.80" height="1.80" rx="1" fill="#d2d2d2"/>
<rect x="455.2" y="71.2" width="8.80" height="3.90" rx="1.8" fill="#111"/>
<rect x="464.4" y="71.0" width="9.50" height="4.10" rx="1.8" fill="#111"/>
<rect x="474.6" y="69.2" width="10.30" height="6.20" rx="2.8" fill="#050505"/>
<rect x="433.3" y="90.0" width="10.30" height="2.30" rx="1.1" fill="#2e2e2e"/>
<rect x="444.4" y="90.0" width="9.80" height="2.30" rx="1.1" fill="#2e2e2e"/>
<rect x="455.2" y="90.0" width="9.40" height="2.30" rx="1.1" fill="#2e2e2e"/>
<rect x="465.2" y="90.0" width="9.00" height="2.30" rx="1.1" fill="#2e2e2e"/>
<rect x="475.2" y="90.0" width="10.40" height="2.30" rx="1.1" fill="#2e2e2e"/>
<text x="494" y="76.6" font-size="9.12" text-anchor="start" fill="#1a1a1a" textLength="19.2" lengthAdjust="spacingAndGlyphs">Mcl-1</text>
<text x="494" y="93.8" font-size="9.12" text-anchor="start" fill="#1a1a1a" textLength="22" lengthAdjust="spacingAndGlyphs">HSP60</text>
<line x1="430.4" y1="111.0" x2="445.5" y2="111.0" stroke="#000" stroke-width="1.7"/>
<polygon points="437.9,108.4 440.5,111.0 437.9,113.6 435.29999999999995,111.0" fill="#000"/>
<text x="451.5" y="115.8" font-size="10" fill="#1a1a1a" textLength="35" lengthAdjust="spacingAndGlyphs">MEF WT</text>
<line x1="430.4" y1="127.4" x2="445.5" y2="127.4" stroke="#aaaaaa" stroke-width="1.7"/>
<rect x="435.09999999999997" y="124.60000000000001" width="5.6" height="5.6" fill="#aaaaaa"/>
<text x="451.5" y="132.4" font-size="10" fill="#1a1a1a" textLength="50" lengthAdjust="spacingAndGlyphs">MEF <tspan font-style="italic">Mcl-1</tspan><tspan font-size="6" dy="-3.5">-/-</tspan></text>
<line x1="430.4" y1="144.6" x2="445.5" y2="144.6" stroke="#111" stroke-width="1.7"/>
<polygon points="437.9,141.79999999999998 440.7,146.84 435.09999999999997,146.84" fill="#111"/>
<text x="451.5" y="148.6" font-size="10" fill="#1a1a1a" textLength="13" lengthAdjust="spacingAndGlyphs">WT</text>
<line x1="430.4" y1="161.0" x2="445.5" y2="161.0" stroke="#5a5a5a" stroke-width="1.7"/>
<path d="M435.59999999999997,158.7L440.2,163.3M435.59999999999997,163.3L440.2,158.7M437.9,158.2L437.9,163.8" stroke="#5a5a5a" stroke-width="1"/>
<text x="451.5" y="166.1" font-size="10" fill="#1a1a1a" textLength="44" lengthAdjust="spacingAndGlyphs"><tspan font-style="italic">Bim</tspan><tspan font-size="6" dy="-3.5">-/-</tspan><tspan dy="3.5"> #678</tspan></text>
<line x1="430.4" y1="177.5" x2="445.5" y2="177.5" stroke="#a9a9a9" stroke-width="1.7"/>
<path d="M435.59999999999997,175.2L440.2,179.8M435.59999999999997,179.8L440.2,175.2M437.9,174.7L437.9,180.3" stroke="#a9a9a9" stroke-width="1"/>
<text x="451.5" y="182.2" font-size="10" fill="#1a1a1a" textLength="44" lengthAdjust="spacingAndGlyphs"><tspan font-style="italic">Bim</tspan><tspan font-size="6" dy="-3.5">-/-</tspan><tspan dy="3.5"> #682</tspan></text>
<line x1="505" y1="138.7" x2="505" y2="183.4" stroke="#111" stroke-width="1.1"/>
<text transform="translate(517.6,160) rotate(-90)" font-size="9.6" text-anchor="middle" fill="#1a1a1a" textLength="31.5" lengthAdjust="spacingAndGlyphs">Eµ-<tspan font-style="italic">Myc</tspan></text>
<text x="315.1" y="227.4" font-size="9.5" fill="#1a1a1a" textLength="65.3" lengthAdjust="spacingAndGlyphs">Eµ-<tspan font-style="italic">Myc/Bim</tspan><tspan font-size="6" dy="-3.5">-/-</tspan></text>
<text x="347.1" y="241.2" font-size="10.07" text-anchor="middle" fill="#1a1a1a" textLength="21" lengthAdjust="spacingAndGlyphs">#678</text>
<line x1="313.3" y1="254.6" x2="313.3" y2="306.9" stroke="#a5a5a5" stroke-width="1"/>
<line x1="310.3" y1="254.6" x2="313.3" y2="254.6" stroke="#a5a5a5" stroke-width="1"/>
<text x="303.90000000000003" y="258.3" font-size="9.86" text-anchor="end" fill="#1a1a1a" textLength="9.5" lengthAdjust="spacingAndGlyphs">50</text>
<line x1="310.3" y1="265.06" x2="313.3" y2="265.06" stroke="#a5a5a5" stroke-width="1"/>
<text x="303.90000000000003" y="268.76" font-size="9.86" text-anchor="end" fill="#1a1a1a" textLength="9.5" lengthAdjust="spacingAndGlyphs">40</text>
<line x1="310.3" y1="275.52" x2="313.3" y2="275.52" stroke="#a5a5a5" stroke-width="1"/>
<text x="303.90000000000003" y="279.21999999999997" font-size="9.86" text-anchor="end" fill="#1a1a1a" textLength="9.5" lengthAdjust="spacingAndGlyphs">30</text>
<line x1="310.3" y1="285.97999999999996" x2="313.3" y2="285.97999999999996" stroke="#a5a5a5" stroke-width="1"/>
<text x="303.90000000000003" y="289.67999999999995" font-size="9.86" text-anchor="end" fill="#1a1a1a" textLength="9.5" lengthAdjust="spacingAndGlyphs">20</text>
<line x1="310.3" y1="296.44" x2="313.3" y2="296.44" stroke="#a5a5a5" stroke-width="1"/>
<text x="303.90000000000003" y="300.14" font-size="9.86" text-anchor="end" fill="#1a1a1a" textLength="9.5" lengthAdjust="spacingAndGlyphs">10</text>
<line x1="310.3" y1="306.9" x2="313.3" y2="306.9" stroke="#a5a5a5" stroke-width="1"/>
<text x="303.90000000000003" y="310.59999999999997" font-size="9.86" text-anchor="end" fill="#1a1a1a" textLength="4.65" lengthAdjust="spacingAndGlyphs">0</text>
<line x1="313.3" y1="306.9" x2="382.3" y2="306.9" stroke="#a5a5a5" stroke-width="1"/>
<line x1="313.3" y1="306.9" x2="313.3" y2="309.9" stroke="#a5a5a5" stroke-width="1"/>
<line x1="330.55" y1="306.9" x2="330.55" y2="309.9" stroke="#a5a5a5" stroke-width="1"/>
<line x1="347.8" y1="306.9" x2="347.8" y2="309.9" stroke="#a5a5a5" stroke-width="1"/>
<line x1="365.05" y1="306.9" x2="365.05" y2="309.9" stroke="#a5a5a5" stroke-width="1"/>
<line x1="382.3" y1="306.9" x2="382.3" y2="309.9" stroke="#a5a5a5" stroke-width="1"/>
<rect x="322.1" y="287.549" width="4.6" height="19.351" fill="#0a0a0a"/>
<rect x="334.4" y="303.97119999999995" width="4.6" height="2.928800000000024" fill="#7a7a7a"/>
<rect x="339.0" y="278.135" width="4.6" height="28.764999999999986" fill="#0a0a0a"/>
<line x1="341.3" y1="277.089" x2="341.3" y2="278.135" stroke="#333" stroke-width="0.8"/>
<line x1="340.05" y1="277.089" x2="342.55" y2="277.089" stroke="#333" stroke-width="0.8"/>
<rect x="351.9" y="299.15959999999995" width="4.6" height="7.740400000000022" fill="#7a7a7a"/>
<rect x="356.5" y="269.13939999999997" width="4.6" height="37.76060000000001" fill="#0a0a0a"/>
<rect x="369.2" y="283.2604" width="4.6" height="23.639599999999973" fill="#7a7a7a"/>
<rect x="373.8" y="255.7506" width="4.6" height="51.149399999999986" fill="#0a0a0a"/>
<line x1="371.5" y1="280.3316" x2="371.5" y2="283.2604" stroke="#555" stroke-width="0.8"/>
<line x1="370.25" y1="280.3316" x2="372.75" y2="280.3316" stroke="#555" stroke-width="0.8"/>
<circle cx="355.05" cy="263.4" r="1.15" fill="#222"/>
<circle cx="358.75" cy="263.4" r="1.15" fill="#222"/>
<circle cx="362.45" cy="263.4" r="1.15" fill="#222"/>
<circle cx="372.35" cy="250.1" r="1.15" fill="#222"/>
<circle cx="376.05" cy="250.1" r="1.15" fill="#222"/>
<circle cx="379.75" cy="250.1" r="1.15" fill="#222"/>
<text x="322.0" y="326.6" font-size="9.86" text-anchor="middle" fill="#1a1a1a">0</text>
<text x="339.3" y="326.6" font-size="9.86" text-anchor="middle" fill="#1a1a1a">1</text>
<text x="356.4" y="326.6" font-size="9.86" text-anchor="middle" fill="#1a1a1a">5</text>
<text x="373.7" y="326.6" font-size="9.86" text-anchor="middle" fill="#1a1a1a">10</text>
<text x="348.4" y="344.6" font-size="10.28" font-weight="bold" text-anchor="middle" fill="#1a1a1a" textLength="57.8" lengthAdjust="spacingAndGlyphs" style="stroke-width:0">ABT-737 (µM)</text>
<text transform="translate(286.5,287.5) rotate(-90)" x="0" y="0" font-size="10.07" font-weight="bold" text-anchor="middle" fill="#1a1a1a" textLength="62" lengthAdjust="spacingAndGlyphs" style="stroke-width:0">% of dead cells</text>
<rect x="318.4" y="352.0" width="62.6" height="20.4" fill="white" stroke="#5a5a5a" stroke-width="1.3"/>
<rect x="324.5" y="359.8" width="5" height="5" fill="#7a7a7a"/>
<text x="334.5" y="365.7" font-size="9.86" text-anchor="start" fill="#1a1a1a">0</text>
<rect x="350.5" y="359.8" width="5" height="5" fill="#0a0a0a"/>
<text x="358.8" y="365.7" font-size="9.86" text-anchor="start" fill="#1a1a1a" textLength="17.5" lengthAdjust="spacingAndGlyphs">2DG</text>
<text x="442.4" y="227.6" font-size="9.5" fill="#1a1a1a" textLength="63.5" lengthAdjust="spacingAndGlyphs">Eµ-<tspan font-style="italic">Myc/Bim</tspan><tspan font-size="6" dy="-3.5">-/-</tspan></text>
<text x="474.6" y="241.2" font-size="10.07" text-anchor="middle" fill="#1a1a1a" textLength="22" lengthAdjust="spacingAndGlyphs">#678</text>
<line x1="447.3" y1="253.4" x2="447.3" y2="304.9" stroke="#a5a5a5" stroke-width="1"/>
<line x1="444.3" y1="253.4" x2="447.3" y2="253.4" stroke="#a5a5a5" stroke-width="1"/>
<text x="437.90000000000003" y="257.1" font-size="9.86" text-anchor="end" fill="#1a1a1a" textLength="14.35" lengthAdjust="spacingAndGlyphs">100</text>
<line x1="444.3" y1="263.7" x2="447.3" y2="263.7" stroke="#a5a5a5" stroke-width="1"/>
<text x="437.90000000000003" y="267.4" font-size="9.86" text-anchor="end" fill="#1a1a1a" textLength="9.5" lengthAdjust="spacingAndGlyphs">80</text>
<line x1="444.3" y1="274.0" x2="447.3" y2="274.0" stroke="#a5a5a5" stroke-width="1"/>
<text x="437.90000000000003" y="277.7" font-size="9.86" text-anchor="end" fill="#1a1a1a" textLength="9.5" lengthAdjust="spacingAndGlyphs">60</text>
<line x1="444.3" y1="284.3" x2="447.3" y2="284.3" stroke="#a5a5a5" stroke-width="1"/>
<text x="437.90000000000003" y="288.0" font-size="9.86" text-anchor="end" fill="#1a1a1a" textLength="9.5" lengthAdjust="spacingAndGlyphs">40</text>
<line x1="444.3" y1="294.59999999999997" x2="447.3" y2="294.59999999999997" stroke="#a5a5a5" stroke-width="1"/>
<text x="437.90000000000003" y="298.29999999999995" font-size="9.86" text-anchor="end" fill="#1a1a1a" textLength="9.5" lengthAdjust="spacingAndGlyphs">20</text>
<line x1="444.3" y1="304.9" x2="447.3" y2="304.9" stroke="#a5a5a5" stroke-width="1"/>
<text x="437.90000000000003" y="308.59999999999997" font-size="9.86" text-anchor="end" fill="#1a1a1a" textLength="4.65" lengthAdjust="spacingAndGlyphs">0</text>
<line x1="447.3" y1="304.9" x2="509.3" y2="304.9" stroke="#a5a5a5" stroke-width="1"/>
<line x1="447.3" y1="304.9" x2="447.3" y2="307.9" stroke="#a5a5a5" stroke-width="1"/>
<line x1="463.0" y1="304.9" x2="463.0" y2="307.9" stroke="#a5a5a5" stroke-width="1"/>
<line x1="478.6" y1="304.9" x2="478.6" y2="307.9" stroke="#a5a5a5" stroke-width="1"/>
<line x1="494.3" y1="304.9" x2="494.3" y2="307.9" stroke="#a5a5a5" stroke-width="1"/>
<line x1="509.3" y1="304.9" x2="509.3" y2="307.9" stroke="#a5a5a5" stroke-width="1"/>
<rect x="455.6" y="299.4925" width="4.6" height="5.40749999999997" fill="#0a0a0a"/>
<line x1="457.90000000000003" y1="296.91749999999996" x2="457.90000000000003" y2="299.4925" stroke="#333" stroke-width="0.8"/>
<line x1="456.65000000000003" y1="296.91749999999996" x2="459.15000000000003" y2="296.91749999999996" stroke="#333" stroke-width="0.8"/>
<rect x="465.9" y="302.99449999999996" width="4.6" height="1.9055000000000177" fill="#7a7a7a"/>
<rect x="470.5" y="296.91749999999996" width="4.6" height="7.982500000000016" fill="#0a0a0a"/>
<line x1="468.2" y1="298.514" x2="468.2" y2="302.99449999999996" stroke="#555" stroke-width="0.8"/>
<line x1="466.95" y1="298.514" x2="469.45" y2="298.514" stroke="#555" stroke-width="0.8"/>
<line x1="472.8" y1="295.21799999999996" x2="472.8" y2="296.91749999999996" stroke="#333" stroke-width="0.8"/>
<line x1="471.55" y1="295.21799999999996" x2="474.05" y2="295.21799999999996" stroke="#333" stroke-width="0.8"/>
<rect x="481.29999999999995" y="302.99449999999996" width="4.6" height="1.9055000000000177" fill="#7a7a7a"/>
<rect x="485.9" y="284.3" width="4.6" height="20.599999999999966" fill="#0a0a0a"/>
<line x1="488.2" y1="280.18" x2="488.2" y2="284.3" stroke="#333" stroke-width="0.8"/>
<line x1="486.95" y1="280.18" x2="489.45" y2="280.18" stroke="#333" stroke-width="0.8"/>
<rect x="496.4" y="293.776" width="4.6" height="11.123999999999967" fill="#7a7a7a"/>
<rect x="501.0" y="253.86350000000002" width="4.6" height="51.03649999999996" fill="#0a0a0a"/>
<line x1="498.7" y1="292.231" x2="498.7" y2="293.776" stroke="#555" stroke-width="0.8"/>
<line x1="497.45" y1="292.231" x2="499.95" y2="292.231" stroke="#555" stroke-width="0.8"/>
<circle cx="484.70" cy="274.1" r="1.15" fill="#222"/>
<circle cx="488.40" cy="274.1" r="1.15" fill="#222"/>
<circle cx="492.10" cy="274.1" r="1.15" fill="#222"/>
<circle cx="499.80" cy="247.8" r="1.15" fill="#222"/>
<circle cx="503.50" cy="247.8" r="1.15" fill="#222"/>
<circle cx="507.20" cy="247.8" r="1.15" fill="#222"/>
<text x="455.6" y="324.4" font-size="9.86" text-anchor="middle" fill="#1a1a1a">0</text>
<text x="471.2" y="324.4" font-size="9.86" text-anchor="middle" fill="#1a1a1a">1</text>
<text x="486.3" y="324.4" font-size="9.86" text-anchor="middle" fill="#1a1a1a">5</text>
<text x="501.5" y="324.4" font-size="9.86" text-anchor="middle" fill="#1a1a1a">10</text>
<text x="479.3" y="342.5" font-size="10.28" font-weight="bold" text-anchor="middle" fill="#1a1a1a" textLength="56.5" lengthAdjust="spacingAndGlyphs" style="stroke-width:0">ABT-737 (µM)</text>
<text transform="translate(416.6,285.6) rotate(-90)" x="0" y="0" font-size="10.07" font-weight="bold" text-anchor="middle" fill="#1a1a1a" textLength="62" lengthAdjust="spacingAndGlyphs" style="stroke-width:0">% of dead cells</text>
<rect x="446.5" y="351.7" width="62.4" height="21.0" fill="white" stroke="#5a5a5a" stroke-width="1.3"/>
<rect x="452.1" y="359.5" width="4.8" height="5.0" fill="#7a7a7a"/>
<text x="462.5" y="365.2" font-size="9.86" text-anchor="start" fill="#1a1a1a">0</text>
<rect x="478.8" y="359.5" width="4.8" height="5.0" fill="#0a0a0a"/>
<text x="486" y="365.2" font-size="9.86" text-anchor="start" fill="#1a1a1a" textLength="19" lengthAdjust="spacingAndGlyphs">LND</text>
</svg></body></html>
